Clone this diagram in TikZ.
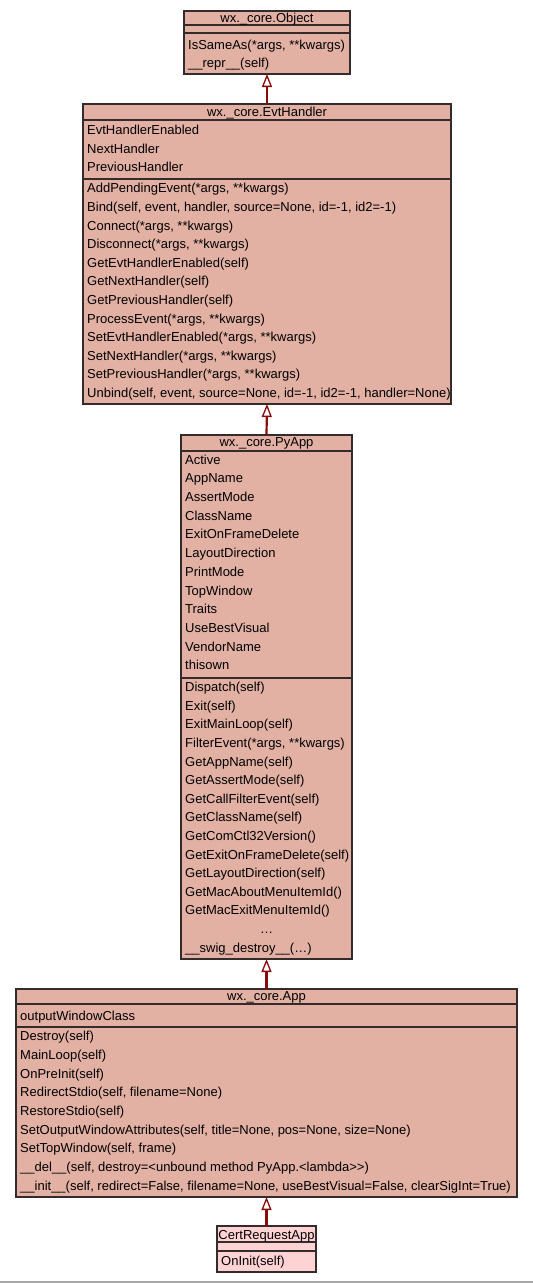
\documentclass[tikz,border=0pt]{standalone}
\usepackage{fontspec}
\setmainfont{Liberation Sans}
\usetikzlibrary{arrows.meta}
\definecolor{classfill}{RGB}{226,177,163}
\definecolor{leaffill}{RGB}{255,211,211}
\definecolor{boxline}{RGB}{52,44,44}
\definecolor{inhcol}{RGB}{139,10,10}
\definecolor{rulegray}{RGB}{168,168,168}
\begin{document}
\begin{tikzpicture}[x=1pt,y=-1pt,
  classbox/.style={draw=boxline, line width=1.4pt, fill=classfill, inner sep=0pt, outer sep=0pt, anchor=north west},
  leafbox/.style={classbox, fill=leaffill},
  sepline/.style={draw=boxline, line width=1.4pt},
  txt/.style={anchor=base west, inner sep=0pt, font=\fontsize{13}{15}\selectfont},
  ttl/.style={anchor=base, inner sep=0pt, font=\fontsize{13}{15}\selectfont},
  inherit/.style={draw=inhcol, line width=2.2pt, -{Triangle[length=13pt,width=10pt,fill=white,line width=1.3pt]}}
]
\useasboundingbox (0,0) rectangle (533,1283);

% ---------- wx._core.Object ----------
\node[classbox, minimum width=166pt, minimum height=63pt] (obj) at (184,11) {};
\draw[sepline] (obj.west |- 0,25) -- (obj.east |- 0,25);
\draw[sepline] (obj.west |- 0,33) -- (obj.east |- 0,33);
\node[ttl] (objt) at (267,22.5) {wx.\_core.Object};
\foreach \t [count=\i from 0] in {{IsSameAs(*args, **kwargs)},{\_\_repr\_\_(self)}} {
  \pgfmathsetmacro\yy{49+\i*18.6}
  \node[txt] (objm\i) at (188,\yy) {\t};
}

% ---------- wx._core.EvtHandler ----------
\node[classbox, minimum width=368pt, minimum height=300pt] (evt) at (83,104) {};
\draw[sepline] (evt.west |- 0,120) -- (evt.east |- 0,120);
\draw[sepline] (evt.west |- 0,179) -- (evt.east |- 0,179);
\node[ttl] (evtt) at (267,116) {wx.\_core.EvtHandler};
\foreach \t [count=\i from 0] in {EvtHandlerEnabled,NextHandler,PreviousHandler} {
  \pgfmathsetmacro\yy{134.6+\i*18.6}
  \node[txt] (evta\i) at (87,\yy) {\t};
}
\foreach \t [count=\i from 0] in {
  {AddPendingEvent(*args, **kwargs)},
  {Bind(self, event, handler, source=None, id=-1, id2=-1)},
  {Connect(*args, **kwargs)},
  {Disconnect(*args, **kwargs)},
  {GetEvtHandlerEnabled(self)},
  {GetNextHandler(self)},
  {GetPreviousHandler(self)},
  {ProcessEvent(*args, **kwargs)},
  {SetEvtHandlerEnabled(*args, **kwargs)},
  {SetNextHandler(*args, **kwargs)},
  {SetPreviousHandler(*args, **kwargs)},
  {Unbind(self, event, source=None, id=-1, id2=-1, handler=None)}} {
  \pgfmathsetmacro\yy{192.9+\i*18.6}
  \node[txt] (evtm\i) at (87,\yy) {\t};
}

% ---------- wx._core.PyApp ----------
\node[classbox, minimum width=171pt, minimum height=524pt] (py) at (181,435) {};
\draw[sepline] (py.west |- 0,451) -- (py.east |- 0,451);
\draw[sepline] (py.west |- 0,678) -- (py.east |- 0,678);
\node[ttl] (pyt) at (266.5,446.7) {wx.\_core.PyApp};
\foreach \t [count=\i from 0] in {Active,AppName,AssertMode,ClassName,ExitOnFrameDelete,LayoutDirection,PrintMode,TopWindow,Traits,UseBestVisual,VendorName,thisown} {
  \pgfmathsetmacro\yy{464.1+\i*18.7}
  \node[txt] (pya\i) at (185,\yy) {\t};
}
\foreach \t [count=\i from 0] in {
  {Dispatch(self)},
  {Exit(self)},
  {ExitMainLoop(self)},
  {FilterEvent(*args, **kwargs)},
  {GetAppName(self)},
  {GetAssertMode(self)},
  {GetCallFilterEvent(self)},
  {GetClassName(self)},
  {GetComCtl32Version()},
  {GetExitOnFrameDelete(self)},
  {GetLayoutDirection(self)},
  {GetMacAboutMenuItemId()},
  {GetMacExitMenuItemId()}} {
  \pgfmathsetmacro\yy{691.6+\i*18.6}
  \node[txt] (pym\i) at (185,\yy) {\t};
}
\node[ttl] (pydots) at (266.5,933.4) {…};
\node[txt] (pyswig) at (185,952) {\_\_swig\_destroy\_\_(…)};

% ---------- wx._core.App ----------
\node[classbox, minimum width=501pt, minimum height=208pt] (app) at (16,989) {};
\draw[sepline] (app.west |- 0,1004) -- (app.east |- 0,1004);
\draw[sepline] (app.west |- 0,1027) -- (app.east |- 0,1027);
\node[ttl] (appt) at (266.5,1000.7) {wx.\_core.App};
\node[txt] (appa0) at (20,1020.1) {outputWindowClass};
\foreach \t [count=\i from 0] in {
  {Destroy(self)},
  {MainLoop(self)},
  {OnPreInit(self)},
  {RedirectStdio(self, filename=None)},
  {RestoreStdio(self)},
  {SetOutputWindowAttributes(self, title=None, pos=None, size=None)},
  {SetTopWindow(self, frame)},
  {\_\_del\_\_(self, destroy=<unbound method PyApp.<lambda>\kern0pt>)},
  {\_\_init\_\_(self, redirect=False, filename=None, useBestVisual=False, clearSigInt=True)}} {
  \pgfmathsetmacro\yy{1040.6+\i*18.7}
  \node[txt] (appm\i) at (20,\yy) {\t};
}

% ---------- CertRequestApp ----------
\node[leafbox, minimum width=99pt, minimum height=46pt] (cert) at (217,1226) {};
\draw[sepline] (cert.west |- 0,1242) -- (cert.east |- 0,1242);
\draw[sepline] (cert.west |- 0,1251) -- (cert.east |- 0,1251);
\node[ttl] (certt) at (266.5,1239) {CertRequestApp};
\node[txt] (certm0) at (221,1265.4) {OnInit(self)};

% ---------- inheritance ----------
\draw[inherit] (evt.north) -- (obj.south);
\draw[inherit] (py.north) -- (evt.south);
\draw[inherit] (app.north) -- (py.south);
\draw[inherit] (cert.north) -- (app.south);

% bottom rule
\draw[rulegray, line width=2pt] (0,1281.5) -- (533,1281.5);
\end{tikzpicture}
\end{document}
